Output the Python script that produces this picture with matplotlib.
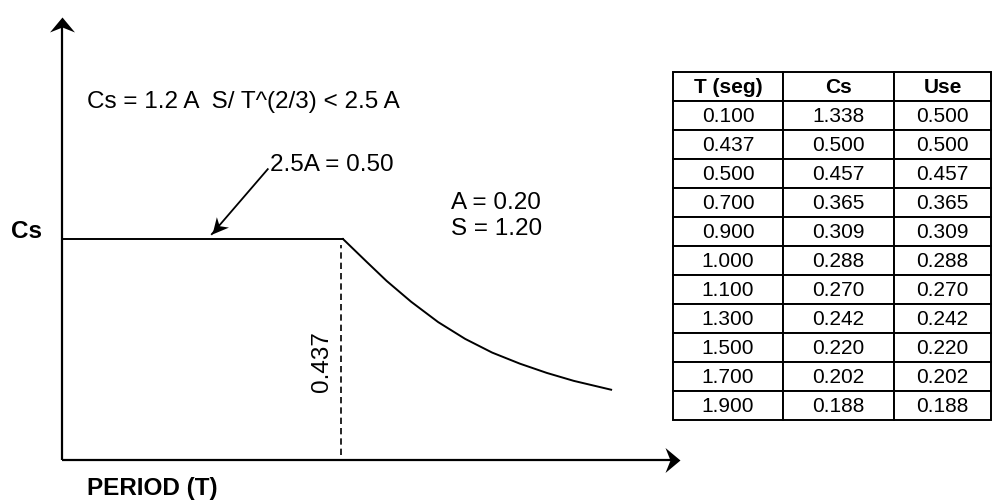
import numpy as np
import matplotlib
matplotlib.use('Agg')
import matplotlib.pyplot as plt
from matplotlib.path import Path
from matplotlib.markers import MarkerStyle
from matplotlib.transforms import Affine2D

plt.rcParams['font.family'] = ['Liberation Sans', 'DejaVu Sans']

# espectro dibujado (esquema, no a escala)
T_plateau = [0.0, 0.437]
Cs_plateau = [0.500, 0.500]
T_curve = [0.437, 0.474, 0.505, 0.543, 0.585, 0.627, 0.669, 0.712, 0.754, 0.796, 0.854]
Cs_curve = [0.500, 0.448, 0.405, 0.358, 0.312, 0.274, 0.243, 0.218, 0.197, 0.179, 0.159]
T_corner = 0.434
dash_lo, dash_hi = 0.011, 0.486
# flecha "2.5A = 0.50"
arr_T = [0.320, 0.233]
arr_Cs = [0.658, 0.511]

# tabla
tab_cols = ['T (seg)', 'Cs', 'Use']
tab_T = [0.100, 0.437, 0.500, 0.700, 0.900, 1.000, 1.100, 1.300, 1.500, 1.700, 1.900]
tab_Cs = [1.338, 0.500, 0.457, 0.365, 0.309, 0.288, 0.270, 0.242, 0.220, 0.202, 0.188]
tab_Use = [0.500, 0.500, 0.457, 0.365, 0.309, 0.288, 0.270, 0.242, 0.220, 0.202, 0.188]

W, H = 993, 502
fig = plt.figure(figsize=(W / 100, H / 100), dpi=100)
fx = lambda x: x / W
fy = lambda y: 1 - y / H

XMAX, YMAX = 618 / 643, 443 / 442
ax = fig.add_axes([fx(62), fy(461), fx(680) - fx(62), fy(18) - fy(461)])
ax.set_xlim(0, XMAX); ax.set_ylim(0, YMAX)
ax.axis('off')

def head(length, half, notch, ang):
    verts = [(0, 0), (-length, half), (-notch, 0), (-length, -half), (0, 0)]
    codes = [Path.MOVETO, Path.LINETO, Path.LINETO, Path.LINETO, Path.CLOSEPOLY]
    return MarkerStyle(Path(verts, codes), transform=Affine2D().rotate_deg(ang))

k = dict(color='k', clip_on=False)
# ejes con flechas
ax.plot([0, XMAX - 0.012], [0, 0], lw=1.6, solid_capstyle='butt', **k)
ax.plot([0, 0], [0, YMAX - 0.02], lw=1.6, solid_capstyle='butt', **k)
ax.plot([XMAX], [0], ls='', marker=head(15, 12.5, 10, 0), ms=21.6, mew=0, **k)
ax.plot([0], [YMAX], ls='', marker=head(15, 12.5, 10, 90), ms=21.6, mew=0, **k)

# espectro
ax.plot(T_plateau, Cs_plateau, lw=1.4, **k)
ax.plot(T_curve, Cs_curve, lw=1.4, solid_joinstyle='round', **k)
ax.plot([T_corner, T_corner], [dash_lo, dash_hi], lw=1.2, ls=(0, (3.8, 2.4)), **k)

# flecha anotacion
p0 = ax.transData.transform((arr_T[0], arr_Cs[0]))
p1 = ax.transData.transform((arr_T[1], arr_Cs[1]))
ang = np.degrees(np.arctan2(p1[1] - p0[1], p1[0] - p0[0]))
ax.plot(arr_T, arr_Cs, lw=1.3, **k)
ax.plot([arr_T[1]], [arr_Cs[1]], ls='', marker=head(16, 8, 11, ang), ms=23, mew=0, **k)

# textos
fs = 17.5
fig.text(fx(87), fy(102), 'Cs = 1.2 A  S/ T^(2/3) < 2.5 A', fontsize=fs, va='center')
fig.text(fx(270), fy(165), '2.5A = 0.50', fontsize=fs, va='center')
fig.text(fx(451), fy(203), 'A = 0.20', fontsize=fs, va='center')
fig.text(fx(451), fy(229), 'S = 1.20', fontsize=fs, va='center')
fig.text(fx(11), fy(232), 'Cs', fontsize=fs, fontweight='bold', va='center')
fig.text(fx(87), fy(489), 'PERIOD (T)', fontsize=fs, fontweight='bold', va='center')
fig.text(fx(322), fy(362), f'{T_plateau[1]:.3f}', fontsize=fs, rotation=90, ha='center', va='center')

# tabla
tax = fig.add_axes([fx(673), fy(421), fx(991) - fx(673), fy(73) - fy(421)])
tax.axis('off')
rows = [[f'{a:.3f}', f'{b:.3f}', f'{c:.3f}'] for a, b, c in zip(tab_T, tab_Cs, tab_Use)]
cw = np.array([110, 111, 97], float)
tbl = tax.table(cellText=rows, colLabels=tab_cols, colWidths=list(cw / cw.sum()),
                cellLoc='center', bbox=[0, 0, 1, 1])
tbl.auto_set_font_size(False)
tbl.set_fontsize(15)
for (r, c), cell in tbl.get_celld().items():
    cell.set_linewidth(1.4)
    cell.set_edgecolor('black')
    if r == 0:
        cell.set_text_props(fontweight='bold')

fig.savefig('out.png', dpi=100)
